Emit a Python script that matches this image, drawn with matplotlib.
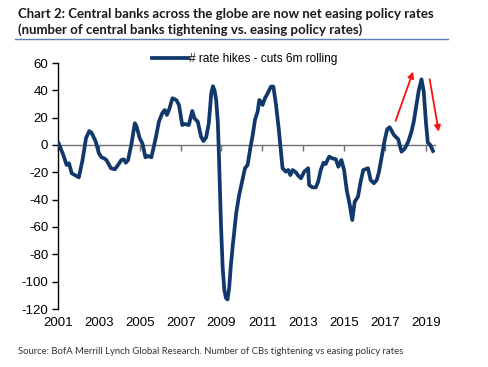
import matplotlib
matplotlib.use("Agg")
import matplotlib.pyplot as plt
from matplotlib.lines import Line2D

# ---- data (decimal year, net # of rate hikes - cuts, 6m rolling) ----
dates = [
    2001.00, 2001.26, 2001.42, 2001.54, 2001.67, 2001.91, 2002.02, 2002.20, 2002.37, 2002.53,
    2002.64, 2002.85, 2003.00, 2003.13, 2003.26, 2003.37, 2003.59, 2003.78, 2003.94, 2004.10,
    2004.22, 2004.32, 2004.43, 2004.60, 2004.76, 2004.84, 2005.00, 2005.13, 2005.28, 2005.40,
    2005.57, 2005.65, 2005.78, 2005.94, 2006.10, 2006.22, 2006.33, 2006.46, 2006.60, 2006.79,
    2006.92, 2007.08, 2007.20, 2007.40, 2007.57, 2007.68, 2007.84, 2008.00, 2008.12, 2008.25,
    2008.38, 2008.50, 2008.58, 2008.66, 2008.74, 2008.82, 2008.86, 2008.91, 2008.98, 2009.06,
    2009.14, 2009.22, 2009.30, 2009.38, 2009.46, 2009.55, 2009.72, 2009.86, 2009.95, 2010.05,
    2010.15, 2010.28, 2010.41, 2010.53, 2010.64, 2010.77, 2010.85, 2010.94, 2011.01, 2011.13,
    2011.26, 2011.42, 2011.54, 2011.67, 2011.80, 2011.91, 2011.99, 2012.15, 2012.27, 2012.37,
    2012.48, 2012.64, 2012.76, 2012.89, 2013.05, 2013.15, 2013.24, 2013.29, 2013.45, 2013.62,
    2013.73, 2013.86, 2013.99, 2014.10, 2014.27, 2014.43, 2014.60, 2014.72, 2014.87, 2015.00,
    2015.13, 2015.28, 2015.40, 2015.52, 2015.68, 2015.81, 2015.94, 2016.17, 2016.30, 2016.46,
    2016.60, 2016.71, 2016.87, 2016.99, 2017.11, 2017.23, 2017.44, 2017.65, 2017.81, 2017.98,
    2018.14, 2018.30, 2018.41, 2018.53, 2018.66, 2018.79, 2018.90, 2019.01, 2019.10, 2019.22,
    2019.39,
]
values = [
    2.4, -7.3, -14.6, -13.4, -20.7, -22.7, -23.7, -11.0, 4.9, 10.2,
    9.0, 2.4, -6.1, -9.0, -9.8, -11.0, -17.0, -17.8, -14.6, -11.0,
    -10.5, -13.0, -11.0, 1.2, 15.9, 13.9, 4.9, 1.2, -9.0, -8.0,
    -9.0, -3.7, 4.9, 17.1, 23.2, 25.6, 22.0, 26.9, 34.2, 32.9,
    29.3, 14.6, 15.4, 14.6, 24.9, 19.5, 17.1, 6.1, 2.9, 5.6,
    15.9, 37.8, 43.0, 40.0, 33.0, 17.0, 0.0, -25.0, -60.0, -90.0,
    -106.0, -112.0, -113.0, -104.0, -88.0, -74.0, -50.0, -37.0, -31.0, -24.0,
    -17.0, -14.6, -2.4, 7.3, 18.3, 24.4, 32.9, 31.7, 29.3, 34.2,
    37.8, 42.7, 42.7, 29.3, 12.2, -4.9, -17.0, -19.5, -18.3, -22.0,
    -18.3, -20.0, -22.5, -24.4, -19.5, -18.3, -17.0, -29.3, -31.0, -31.0,
    -26.9, -18.3, -13.0, -13.9, -8.5, -9.8, -10.5, -15.9, -11.0, -18.3,
    -33.0, -44.0, -54.9, -41.5, -37.8, -26.9, -18.3, -17.0, -25.6, -28.0,
    -25.6, -19.5, -6.1, 3.7, 11.5, 13.0, 7.3, 4.2, -4.9, -2.4,
    2.4, 9.8, 17.1, 28.0, 40.3, 48.1, 39.0, 15.9, 1.7, 0.0,
    -5.6,
]
year_ticks = [2001, 2003, 2005, 2007, 2009, 2011, 2013, 2015, 2017, 2019]
y_ticks = [60, 40, 20, 0, -20, -40, -60, -80, -100, -120]
series_label = "# rate hikes - cuts 6m rolling"

# annotation arrows (data coords: start -> end)
arrow_up = ((2017.52, 17.6), (2018.38, 53.7))
arrow_down = ((2019.19, 48.1), (2019.63, 9.7))

title_lines = ["Chart 2: Central banks across the globe are now net easing policy rates",
               "(number of central banks tightening vs. easing policy rates)"]
source = "Source: BofA Merrill Lynch Global Research. Number of CBs tightening vs easing policy rates"

NAVY = "#11386a"
SANS = ["Liberation Sans", "DejaVu Sans"]
FS = 8.6

fig = plt.figure(figsize=(4.88, 3.67), dpi=100)
ax = fig.add_axes([58 / 488, 1 - 309 / 367, (435 - 58) / 488, (309 - 63) / 367])

ax.plot(dates, values, color=NAVY, lw=2.7, solid_joinstyle="round",
        solid_capstyle="butt", zorder=3)

ax.set_xlim(2001, 2019.45)
ax.set_ylim(-120, 60)

# spines
for s in ["top", "right"]:
    ax.spines[s].set_visible(False)
ax.spines["left"].set_color("#000000")
ax.spines["left"].set_linewidth(1.0)
ax.spines["bottom"].set_position(("data", 0))
ax.spines["bottom"].set_color("#707070")
ax.spines["bottom"].set_linewidth(1.0)
ax.spines["bottom"].set_zorder(2)

ax.set_yticks(y_ticks)
ax.set_yticklabels([str(v) for v in y_ticks], fontfamily=SANS, fontsize=9.5)
ax.tick_params(axis="y", direction="out", length=4, width=1, color="#000000", pad=3)

ax.set_xticks(year_ticks)
ax.tick_params(axis="x", direction="out", length=4, width=1, color="#707070",
               labelbottom=False)

sec = ax.secondary_xaxis("bottom")
sec.set_xticks(year_ticks)
sec.set_xticklabels([str(y) for y in year_ticks], fontfamily=SANS, fontsize=9.5)
sec.tick_params(length=0, pad=6)
for s in sec.spines.values():
    s.set_visible(False)

# legend
handle = Line2D([], [], color=NAVY, lw=2.7)
leg = ax.legend([handle], [series_label], loc="upper left",
                bbox_to_anchor=(146 / 488, 1 - 47 / 367), bbox_transform=fig.transFigure,
                frameon=False, handlelength=3.0, handletextpad=0.1, borderpad=0,
                prop={"family": SANS, "size": FS})

# arrows
for (st, en) in (arrow_up, arrow_down):
    ax.annotate("", xy=en, xytext=st, xycoords="data", textcoords="data",
                arrowprops=dict(arrowstyle="-|>", color="#ff1010", lw=1.3,
                                mutation_scale=9, shrinkA=0, shrinkB=0),
                annotation_clip=False, zorder=4)

# title
fig.text(18 / 488, 1 - 14 / 367, title_lines[0], fontfamily="Lato", fontweight="bold",
         fontsize=9.5, color="#1a1a1a", va="center", ha="left")
fig.text(18 / 488, 1 - 30 / 367, title_lines[1], fontfamily="Lato", fontweight="bold",
         fontsize=9.5, color="#1a1a1a", va="center", ha="left")
fig.add_artist(Line2D([15 / 488, 448 / 488], [1 - 38.7 / 367, 1 - 38.7 / 367],
                      color="#5a7fb5", lw=1.0))

fig.text(18 / 488, 1 - 352 / 367, source, fontfamily="Lato", fontsize=6.85,
         color="#333333", va="center", ha="left")

fig.savefig("out.png", dpi=100)
